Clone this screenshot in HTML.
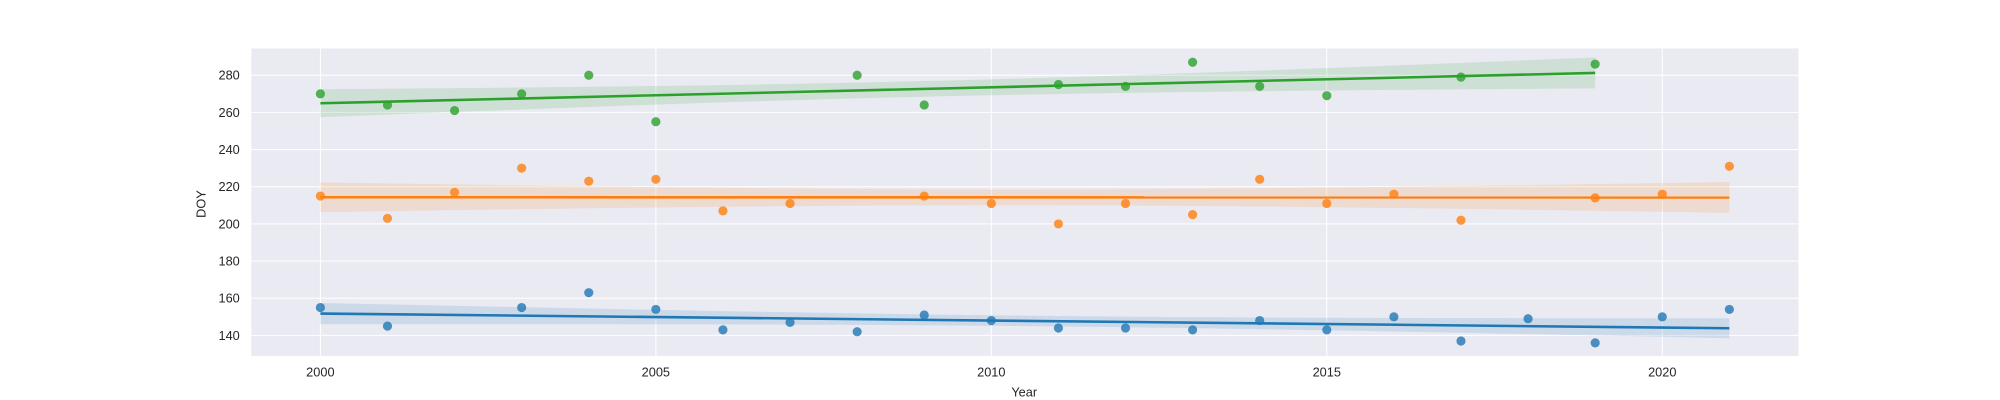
<!DOCTYPE html>
<html><head><meta charset="utf-8"><style>
body{margin:0;background:#fff}
svg{display:block}
svg text{font-family:"Liberation Sans","DejaVu Sans",sans-serif;fill:#262626}
</style></head><body>
<svg id="chart" width="2000" height="400" viewBox="0 0 1568 313.6" preserveAspectRatio="none">
<rect x="197" y="38" width="1213" height="241" fill="#eaeaf2"/>
<g id="grid"></g><g id="bands"></g><g id="lines"></g><g id="points"></g><g id="ticks"></g>
<text x="803" y="311" text-anchor="middle" font-size="10">Year</text>
<text transform="translate(161,160) rotate(-90)" text-anchor="middle" font-size="10">DOY</text>
</svg>
<script>
const blueYears=[2000,2001,2003,2004,2005,2006,2007,2008,2009,2010,2011,2012,2013,2014,2015,2016,2017,2018,2019,2020,2021];
const blueValues=[155,145,155,163,154,143,147,142,151,148,144,144,143,148,143,150,137,149,136,150,154];
const orangeYears=[2000,2001,2002,2003,2004,2005,2006,2007,2009,2010,2011,2012,2013,2014,2015,2016,2017,2019,2020,2021];
const orangeValues=[215,203,217,230,223,224,207,211,215,211,200,211,205,224,211,216,202,214,216,231];
const greenYears=[2000,2001,2002,2003,2004,2005,2008,2009,2011,2012,2013,2014,2015,2017,2019];
const greenValues=[270,264,261,270,280,255,280,264,275,274,287,274,269,279,286];
const xTicks=[2000,2005,2010,2015,2020];
const yTicks=[140,160,180,200,220,240,260,280];

const NS="http://www.w3.org/2000/svg";
const X0=197,X1=1410,Y0=38,Y1=279,xmin=1998.97,xmax=2022.03,ymin=129,ymax=294.4;
const sx=v=>X0+(v-xmin)/(xmax-xmin)*(X1-X0);
const sy=v=>Y1-(v-ymin)/(ymax-ymin)*(Y1-Y0);
function mk(tag,attrs,parent){const e=document.createElementNS(NS,tag);for(const k in attrs)e.setAttribute(k,attrs[k]);document.getElementById(parent).appendChild(e);return e;}
xTicks.forEach(t=>{
  const l=mk('line',{x1:sx(t),x2:sx(t),y1:Y0,y2:Y1,stroke:'#fff','stroke-width':0.8},'grid');
  
  
  const tx=mk('text',{x:sx(t),y:Y1+16,'text-anchor':'middle','font-size':10},'ticks');tx.textContent=t;
  
  
});
yTicks.forEach(t=>{
  const l=mk('line',{x1:X0,x2:X1,y1:sy(t),y2:sy(t),stroke:'#fff','stroke-width':0.8},'grid');
  
  
  const tx=mk('text',{x:X0-9,y:sy(t)+3.5,'text-anchor':'end','font-size':10},'ticks');tx.textContent=t;
  
  
});
function series(xs,ys,color,name){
  const n=xs.length,mx=xs.reduce((a,b)=>a+b)/n,my=ys.reduce((a,b)=>a+b)/n;
  let sxx=0,sxy=0;xs.forEach((x,i)=>{sxx+=(x-mx)**2;sxy+=(x-mx)*(ys[i]-my);});
  const b=sxy/sxx,a=my-b*mx;let sse=0;xs.forEach((x,i)=>sse+=(ys[i]-a-b*x)**2);
  const s=Math.sqrt(sse/(n-2)),tq=2.1;
  const lo=Math.min(...xs),hi=Math.max(...xs);const up=[],dn=[];
  for(let k=0;k<=50;k++){const x=lo+(hi-lo)*k/50;const f=a+b*x;const h=tq*s*Math.sqrt(1/n+(x-mx)**2/sxx);
    up.push(sx(x)+','+sy(f+h));dn.unshift(sx(x)+','+sy(f-h));}
  const band=mk('polygon',{points:up.concat(dn).join(' '),fill:color,'fill-opacity':0.15},'bands');
  
  
  const ln=mk('line',{x1:sx(lo),y1:sy(a+b*lo),x2:sx(hi),y2:sy(a+b*hi),stroke:color,'stroke-width':2},'lines');
  
  
  xs.forEach((x,i)=>{const c=mk('circle',{cx:sx(x),cy:sy(ys[i]),r:3.6,fill:color,'fill-opacity':0.8},'points');
    
    });
}
series(blueYears,blueValues,'#1f77b4','blue');
series(orangeYears,orangeValues,'#ff7f0e','orange');
series(greenYears,greenValues,'#2ca02c','green');
</script>
</body></html>
